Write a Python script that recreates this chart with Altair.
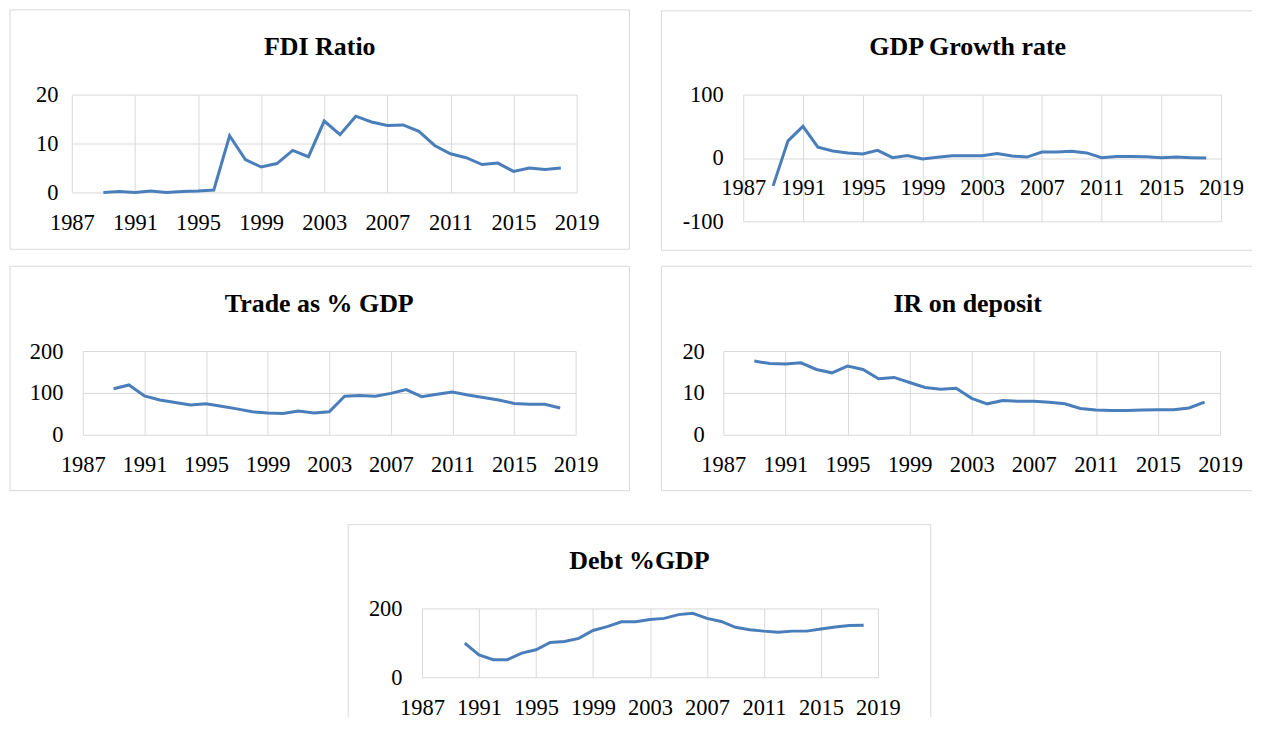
import altair as alt
import pandas as pd

# ---------------- data ----------------
years = list(range(1989, 2019))
debt_years = list(range(1990, 2019))
x_ticks = [1987, 1991, 1995, 1999, 2003, 2007, 2011, 2015, 2019]

fdi_ratio = [0.0, 0.2, 0.0, 0.3, 0.0, 0.2, 0.3, 0.5, 11.6, 6.7, 5.2, 5.9, 8.6, 7.3, 14.6,
             11.8, 15.6, 14.4, 13.7, 13.8, 12.5, 9.6, 7.9, 7.1, 5.7, 6.0, 4.3, 5.0, 4.7, 5.0]
gdp_growth = [-44, 27, 50, 17, 11, 8, 6.5, 12, 0.5, 4, -1.5, 1, 3.5, 3.5, 3.5,
              7, 3, 1.5, 9.5, 9.5, 10.5, 8, 0.5, 2.5, 2.5, 2, 0.5, 1.5, 0.5, 0]
trade_gdp = [110, 119, 93, 83, 77, 71, 74, 68, 62, 55, 52, 51, 57, 52, 55,
             92, 94, 92, 99, 108, 91, 97, 102, 95, 89, 83, 75, 73, 73, 64]
ir_deposit = [17.6, 17.0, 16.9, 17.2, 15.6, 14.8, 16.4, 15.6, 13.4, 13.7, 12.5, 11.3, 10.9, 11.1, 8.7,
              7.4, 8.2, 8.0, 8.0, 7.8, 7.4, 6.3, 5.9, 5.8, 5.8, 5.9, 6.0, 6.0, 6.4, 7.8]
debt_gdp = [99, 65, 51, 51, 70, 80, 101, 104, 113, 136, 147, 161, 161, 168, 171,
            182, 186, 171, 162, 145, 138, 134, 131, 134, 134, 140, 146, 150, 151]

# ---------------- style ----------------
BLUE = "#4A7EBB"
GRID = "#D9D9D9"
FONT = "Liberation Serif"
TICK_SIZE = 22.5
ONE = pd.DataFrame({"k": [0]})


def seg(x1, x2, y1, y2=None):
    enc = dict(x=alt.value(x1), x2=alt.value(x2), y=alt.value(y1))
    if y2 is not None:
        enc["y2"] = alt.value(y2)
    return alt.Chart(ONE).mark_rule(color=GRID, strokeWidth=1).encode(**enc)


def spacer(w):
    return alt.Chart(ONE).mark_rule(strokeOpacity=0).encode(
        x=alt.value(0), x2=alt.value(w), y=alt.value(0)
    ).properties(width=w, height=1)


def panel(title, xs, ys, y_domain, y_ticks, W, H, box, title_x,
          ylab_pad=20, x_offset=0):
    left, right, top, bottom, sides = box
    df = pd.DataFrame({"year": xs, "value": ys})
    line = alt.Chart(df).mark_line(color=BLUE, strokeWidth=3).encode(
        x=alt.X("year:Q",
                scale=alt.Scale(domain=[1987, 2019], nice=False, zero=False),
                axis=alt.Axis(values=x_ticks, labelExpr="'' + datum.value", title=None,
                              grid=True, gridColor=GRID, gridWidth=1, domain=False,
                              ticks=False, labelPadding=19, labelFont=FONT,
                              labelFontSize=TICK_SIZE, labelColor="black",
                              labelFlush=False, labelOverlap=False,
                              labelBound=False, offset=x_offset)),
        y=alt.Y("value:Q",
                scale=alt.Scale(domain=y_domain, nice=False, zero=False),
                axis=alt.Axis(values=y_ticks, labelExpr="'' + datum.value", title=None,
                              grid=True, gridColor=GRID, gridWidth=1, domain=False,
                              ticks=False, labelPadding=ylab_pad, labelFont=FONT,
                              labelFontSize=TICK_SIZE, labelColor="black",
                              labelOverlap=False)),
    )
    layers = []
    if "t" in sides:
        layers.append(seg(left, right, top))
    if "b" in sides:
        layers.append(seg(left, right, bottom))
    if "l" in sides:
        layers.append(seg(left, left, top, bottom))
    if "r" in sides:
        layers.append(seg(right, right, top, bottom))
    ttl = alt.Chart(ONE).mark_text(
        text=title, font=FONT, fontSize=26, fontWeight="bold",
        align="center", baseline="middle", color="black"
    ).encode(x=alt.value(title_x), y=alt.value(-47.5))
    layers.append(ttl)
    layers.append(line)
    return alt.layer(*layers).properties(width=W, height=H)


fdi = panel("FDI Ratio", years, fdi_ratio, [0, 20], [0, 10, 20],
            506, 98, (-62, 506 + 53, -85, 98 + 57, "tblr"), 248.5, ylab_pad=14)
gdp = panel("GDP Growth rate", years, gdp_growth, [-100, 100], [-100, 0, 100],
            479, 127, (-82, 479 + 31, -84, 127 + 29, "tbl"), 225, ylab_pad=20,
            x_offset=-63.5)
trade = panel("Trade as % GDP", years, trade_gdp, [0, 200], [0, 100, 200],
              494, 84, (-73, 494 + 54, -85, 84 + 56, "tblr"), 237, ylab_pad=20)
ir = panel("IR on deposit", years, ir_deposit, [0, 20], [0, 10, 20],
           498, 84, (-62, 498 + 32, -85, 84 + 56, "tbl"), 245, ylab_pad=19)
debt = panel("Debt %GDP", debt_years, debt_gdp, [0, 200], [0, 200],
             457, 69, (-74, 457 + 53, -84, 69 + 40, "tlr"), 218, ylab_pad=20)

row1 = alt.hconcat(spacer(1), alt.hconcat(fdi, gdp, spacing=30), spacing=0)
row2 = alt.hconcat(spacer(1), alt.hconcat(trade, ir, spacing=30), spacing=0)
row3 = alt.hconcat(spacer(340), debt, spacing=0)
top = alt.vconcat(row1, row2, spacing=14)
chart = alt.vconcat(top, row3, spacing=32).configure_view(stroke=None).properties(
    padding={"left": 0, "top": 0, "right": 0, "bottom": 0},
    background="white",
)

chart.save("out.html", embed_options={"renderer": "svg", "actions": False})
